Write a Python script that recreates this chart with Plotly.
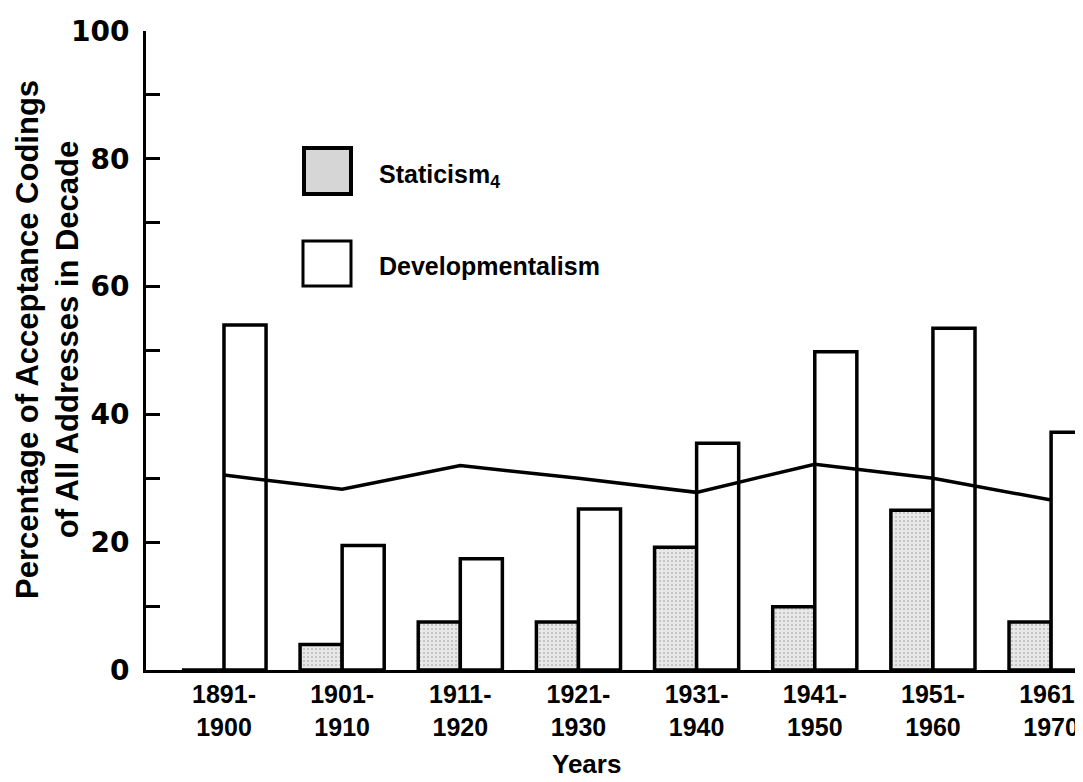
import plotly.graph_objects as go

decades = ["1891-<br>1900", "1901-<br>1910", "1911-<br>1920", "1921-<br>1930",
           "1931-<br>1940", "1941-<br>1950", "1951-<br>1960", "1961-<br>1970"]
staticism = [0, 4, 7.5, 7.5, 19.2, 9.9, 25, 7.5]
developmentalism = [54, 19.5, 17.4, 25.2, 35.5, 49.8, 53.5, 37.2]
overall_line = [30.5, 28.3, 32, 30, 27.8, 32.2, 30, 26.6]
y_ticks = [0, 20, 40, 60, 80, 100]

idx = list(range(len(decades)))

# page body has an 8px margin; compensate so the picture lands on the 1083x782 frame
OFF = 8
W, H = 1083 - OFF, 782 - OFF
L, T = 146 - OFF, 31 - OFF
PW, PH = 1083 - 146, 670 - 31
R = W - L - PW
B = H - T - PH

def px(x):
    return (x - 146) / PW

def py(y):
    return (670 - y) / PH

FONT = "Liberation Sans"
BW = 0.356

fig = go.Figure()
fig.add_trace(go.Bar(
    x=idx, y=staticism, width=BW, offset=-BW,
    marker=dict(color="#e4e4e4",
                line=dict(color="black", width=3.5),
                pattern=dict(shape=".", fgcolor="#8a8a8a", bgcolor="#e8e8e8", size=4, solidity=0.2)),
    showlegend=False, name="Staticism"))
fig.add_trace(go.Bar(
    x=idx, y=developmentalism, width=BW, offset=0,
    marker=dict(color="white", line=dict(color="black", width=3.5)),
    showlegend=False, name="Developmentalism"))
fig.add_trace(go.Scatter(
    x=idx, y=overall_line, mode="lines",
    line=dict(color="black", width=3.5), showlegend=False))

# legend keys
fig.add_shape(type="rect", xref="paper", yref="paper",
              x0=px(304), x1=px(351), y0=py(194), y1=py(148),
              fillcolor="#d6d6d6", line=dict(color="black", width=4))
fig.add_shape(type="rect", xref="paper", yref="paper",
              x0=px(303), x1=px(351), y0=py(286), y1=py(241),
              fillcolor="white", line=dict(color="black", width=3))
fig.add_annotation(xref="paper", yref="paper", x=px(377), y=py(176),
                   text="Staticism<sub>4</sub>", showarrow=False, xanchor="left", yanchor="middle",
                   font=dict(family=FONT, size=25, color="black", weight="bold"))
fig.add_annotation(xref="paper", yref="paper", x=px(377), y=py(266),
                   text="Developmentalism", showarrow=False, xanchor="left", yanchor="middle",
                   font=dict(family=FONT, size=25, color="black", weight="bold"))

# axis titles
fig.add_annotation(xref="paper", yref="paper", x=px(47), y=py(340),
                   text="Percentage of Acceptance Codings<br>of All Addresses in Decade",
                   textangle=-90, showarrow=False, xanchor="center", yanchor="middle",
                   font=dict(family=FONT, size=31, color="black", weight="bold"))
fig.add_annotation(xref="paper", yref="paper", x=px(586), y=py(764),
                   text="Years", showarrow=False, xanchor="center", yanchor="middle",
                   font=dict(family=FONT, size=26, color="black", weight="bold"))

fig.update_layout(
    width=W, height=H,
    margin=dict(l=L, r=R, t=T, b=B, autoexpand=False),
    paper_bgcolor="white", plot_bgcolor="white",
    barmode="overlay",
    xaxis=dict(range=[-0.66, 7.27], tickvals=idx, ticktext=decades,
               showline=True, linecolor="black", linewidth=3, ticks="",
               showgrid=False, zeroline=False, automargin=False,
               ticklabeloverflow="allow",
               tickfont=dict(family=FONT, size=25, color="black", weight="bold")),
    yaxis=dict(range=[0, 100], tickvals=y_ticks, ticks="inside", ticklen=14,
               tickwidth=3, tickcolor="black",
               minor=dict(dtick=10, ticks="inside", ticklen=14, tickwidth=3, tickcolor="black"),
               showline=True, linecolor="black", linewidth=3, automargin=False,
               showgrid=False, zeroline=False, ticklabelstandoff=8,
               ticklabeloverflow="allow",
               tickfont=dict(family="DejaVu Sans", size=28, color="black", weight="bold")),
)

fig.write_html("out.html")
